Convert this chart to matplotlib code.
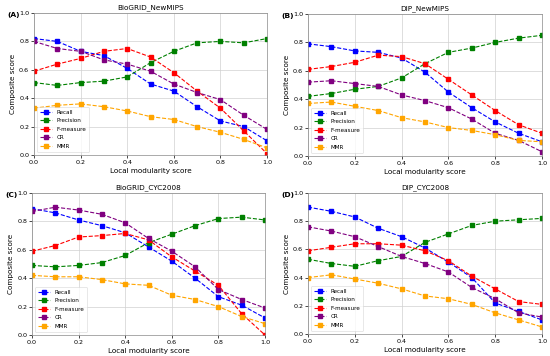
import matplotlib
matplotlib.use("Agg")
import matplotlib.pyplot as plt
import numpy as np

x = [0.0, 0.1, 0.2, 0.3, 0.4, 0.5, 0.6, 0.7, 0.8, 0.9, 1.0]
series_names = ["Recall", "Precision", "F-measure", "CR", "MMR"]
colors = ["blue", "green", "red", "purple", "orange"]

titles = ["BioGRID_NewMIPS", "DIP_NewMIPS", "BioGRID_CYC2008", "DIP_CYC2008"]
panel_labels = ["(A)", "(B)", "(C)", "(D)"]

a_recall = [0.82, 0.80, 0.73, 0.70, 0.61, 0.50, 0.45, 0.34, 0.24, 0.20, 0.10]
a_precision = [0.51, 0.49, 0.51, 0.52, 0.55, 0.65, 0.73, 0.79, 0.80, 0.79, 0.82]
a_fmeasure = [0.59, 0.64, 0.68, 0.73, 0.75, 0.69, 0.58, 0.45, 0.33, 0.17, 0.01]
a_cr = [0.80, 0.75, 0.73, 0.67, 0.64, 0.59, 0.50, 0.44, 0.39, 0.28, 0.18]
a_mmr = [0.33, 0.35, 0.36, 0.34, 0.31, 0.27, 0.25, 0.20, 0.16, 0.11, 0.05]

b_recall = [0.79, 0.77, 0.74, 0.73, 0.69, 0.59, 0.45, 0.34, 0.24, 0.16, 0.10]
b_precision = [0.42, 0.44, 0.47, 0.49, 0.55, 0.65, 0.73, 0.76, 0.80, 0.83, 0.85]
b_fmeasure = [0.61, 0.63, 0.66, 0.71, 0.70, 0.65, 0.54, 0.43, 0.32, 0.22, 0.16]
b_cr = [0.52, 0.53, 0.51, 0.49, 0.43, 0.39, 0.34, 0.26, 0.16, 0.11, 0.03]
b_mmr = [0.37, 0.38, 0.35, 0.32, 0.27, 0.24, 0.20, 0.18, 0.15, 0.11, 0.10]

c_recall = [0.89, 0.86, 0.81, 0.77, 0.72, 0.62, 0.52, 0.40, 0.27, 0.21, 0.12]
c_precision = [0.49, 0.48, 0.49, 0.51, 0.56, 0.65, 0.71, 0.77, 0.82, 0.83, 0.81]
c_fmeasure = [0.59, 0.63, 0.69, 0.70, 0.715, 0.67, 0.55, 0.45, 0.35, 0.15, 0.00]
c_cr = [0.87, 0.90, 0.88, 0.85, 0.79, 0.68, 0.59, 0.48, 0.32, 0.25, 0.19]
c_mmr = [0.42, 0.41, 0.41, 0.39, 0.36, 0.35, 0.28, 0.25, 0.20, 0.13, 0.08]

d_recall = [0.90, 0.87, 0.83, 0.75, 0.69, 0.61, 0.51, 0.40, 0.22, 0.16, 0.10]
d_precision = [0.53, 0.50, 0.48, 0.52, 0.55, 0.65, 0.71, 0.77, 0.80, 0.81, 0.82]
d_fmeasure = [0.59, 0.615, 0.64, 0.64, 0.63, 0.59, 0.52, 0.41, 0.32, 0.23, 0.21]
d_cr = [0.76, 0.73, 0.69, 0.62, 0.55, 0.50, 0.44, 0.33, 0.25, 0.15, 0.12]
d_mmr = [0.40, 0.42, 0.39, 0.36, 0.32, 0.27, 0.25, 0.21, 0.15, 0.10, 0.05]

panels = [
    [a_recall, a_precision, a_fmeasure, a_cr, a_mmr],
    [b_recall, b_precision, b_fmeasure, b_cr, b_mmr],
    [c_recall, c_precision, c_fmeasure, c_cr, c_mmr],
    [d_recall, d_precision, d_fmeasure, d_cr, d_mmr],
]

W, H = 550, 356
fig = plt.figure(figsize=(5.5, 3.56), dpi=100)

# axes boxes in pixels: left, top, right, bottom
boxes = [(34, 13, 267, 155), (308, 14, 542, 156), (32, 193, 265, 335), (308, 193, 542, 334)]

fs = 4.6
for i, (l, t, r, b) in enumerate(boxes):
    ax = fig.add_axes([l / W, 1 - b / H, (r - l) / W, (b - t) / H])
    for vals, name, c in zip(panels[i], series_names, colors):
        ax.plot(x, vals, linestyle="--", marker="s", color=c, label=name,
                linewidth=0.8, markersize=2.2)
    ax.set_xlim(0, 1)
    ax.set_ylim(0, 1)
    ax.set_xticks([0, 0.2, 0.4, 0.6, 0.8, 1.0])
    ax.set_yticks([0, 0.2, 0.4, 0.6, 0.8, 1.0])
    ax.tick_params(labelsize=fs, length=2, width=0.5, pad=1.5)
    ax.grid(True, color="#d0d0d0", linewidth=0.5)
    for s in ax.spines.values():
        s.set_linewidth(0.5)
        s.set_color("#888888")
    ax.set_title(titles[i], fontsize=5.2, pad=3)
    ax.set_xlabel("Local modularity score", fontsize=5.2, labelpad=2)
    ax.set_ylabel("Composite score", fontsize=5.2, labelpad=2)
    leg = ax.legend(loc="lower left", fontsize=4.1, frameon=True, handlelength=2.0,
                    borderpad=0.6, labelspacing=0.6, handletextpad=0.8)
    leg.get_frame().set_linewidth(0.4)
    fig.text((l - 27) / W, 1 - (t - 1) / H, panel_labels[i], fontsize=5.4, fontweight="bold",
             va="top", ha="left")

fig.savefig("out.png", dpi=100)
